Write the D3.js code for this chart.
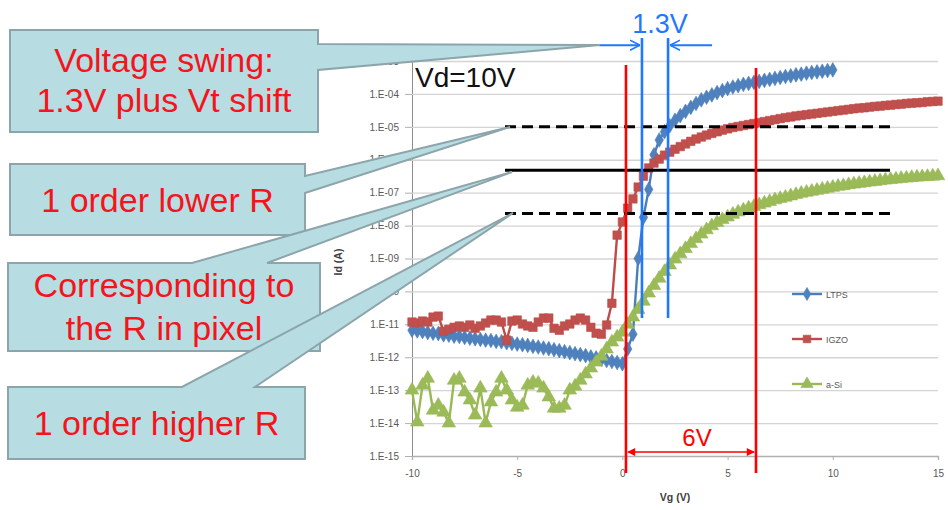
<!DOCTYPE html>
<html><head><meta charset="utf-8">
<script src="https://cdn.jsdelivr.net/npm/d3@7"></script>
<style>
body{margin:0;background:#fff;}
svg{display:block;font-family:"Liberation Sans",Arial,sans-serif;}
</style>
</head><body>
<svg id="c" width="948" height="510"></svg>
<script>
// ---------------- DATA ----------------
const seriesNames = ["LTPS", "IGZO", "a-Si"];
const vgStart = -10, vgStep = 0.25;           // gate-voltage sweep grid (V)
// log10(Id [A]), one value per sweep point
const ltpsLogId = [
 -11.18,-11.20,-11.22,-11.25,-11.27,-11.28,-11.32,-11.33,-11.36,-11.37,
 -11.40,-11.42,-11.44,-11.46,-11.48,-11.49,-11.52,-11.53,-11.56,-11.58,
 -11.60,-11.62,-11.64,-11.67,-11.69,-11.72,-11.74,-11.77,-11.80,-11.83,
 -11.86,-11.89,-11.92,-11.95,-11.99,-12.02,-12.06,-12.10,-12.13,-12.16,
 -12.20,
 -11.75,-11.30,-9.00,-7.75,-6.90,-5.85,-5.40,-5.15,-4.97,-4.80,
 -4.66,-4.53,-4.41,-4.29,-4.18,-4.10,-4.03,-3.96,-3.90,-3.84,
 -3.79,-3.75,-3.71,-3.68,-3.65,-3.62,-3.59,-3.56,-3.53,-3.50,
 -3.47,-3.45,-3.42,-3.40,-3.37,-3.35,-3.33,-3.31,-3.29,-3.27
];
const igzoLogId = [
 -10.93,-10.96,-10.90,-10.93,-10.78,-10.75,-11.21,-11.15,-11.09,-11.05,
 -11.09,-11.02,-11.12,-11.05,-10.96,-10.87,-10.87,-10.93,-11.48,-10.90,
 -10.87,-10.99,-11.05,-11.09,-10.93,-10.81,-10.81,-11.12,-11.18,-11.05,
 -10.99,-10.87,-10.81,-10.87,-11.09,-11.27,-11.30,-11.02,
 -10.36,-8.29,-7.89,-7.47,-7.19,-6.83,-6.50,-6.25,-6.10,-5.98,-5.86,
 -5.77,-5.68,-5.60,-5.52,-5.44,-5.37,-5.31,-5.25,-5.20,-5.15,
 -5.10,-5.06,-5.02,-4.99,-4.96,-4.93,-4.90,-4.87,-4.84,-4.81,
 -4.78,-4.75,-4.72,-4.70,-4.67,-4.65,-4.63,-4.61,-4.59,-4.57,
 -4.55,-4.53,-4.51,-4.49,-4.47,-4.45,-4.43,-4.42,-4.40,-4.38,
 -4.37,-4.35,-4.34,-4.32,-4.31,-4.29,-4.28,-4.27,-4.26,-4.24,
 -4.23,-4.22
];
const asiLogId = [
 -13.00,-13.97,-12.85,-12.64,-13.61,-13.46,-13.67,-14.00,-12.70,-12.64,
 -13.06,-13.30,-13.76,-12.94,-14.00,-13.36,-13.06,-12.64,-13.00,-13.30,
 -13.52,-13.46,-12.85,-12.76,-12.79,-12.94,-13.21,
 -13.55,-13.55,-13.46,-13.00,-12.88,-12.70,-12.51,-12.33,-12.15,-11.97,
 -11.75,-11.54,-11.39,-11.24,
 -11.00,-10.78,-10.55,-10.30,-10.05,-9.82,-9.60,-9.40,-9.20,-9.02,
 -8.86,-8.70,-8.55,-8.40,-8.26,-8.13,-8.01,-7.91,-7.82,-7.74,
 -7.66,-7.59,-7.53,-7.47,-7.42,-7.37,-7.32,-7.27,-7.22,-7.18,
 -7.14,-7.10,-7.06,-7.02,-6.99,-6.96,-6.93,-6.90,-6.87,-6.84,
 -6.81,-6.79,-6.76,-6.74,-6.72,-6.70,-6.68,-6.66,-6.64,-6.62,
 -6.60,-6.59,-6.57,-6.56,-6.54,-6.53,-6.52,-6.51,-6.50,-6.49
];
const xTickValues = [-10, -5, 0, 5, 10, 15];
const yTickExponents = [-15,-14,-13,-12,-11,-10,-9,-8,-7,-6,-5,-4,-3];
const xTitle = "Vg (V)", yTitle = "Id (A)";
const vdLabel = "Vd=10V";
// annotation values (data units)
const refLevelLogId = [-5.0, -6.32, -7.63];     // dashed, solid, dashed
const refLevelDash  = [true, false, true];
const refLevelVg = [-5.58, 12.72];
const redLineVg = [0.17, 6.35];
const blueLineVg = [0.93, 2.17];
const swingLabel = "1.3V", windowLabel = "6V";
const calloutTexts = [
  ["Voltage swing:", "1.3V plus Vt shift"],
  ["1 order lower R"],
  ["Corresponding to", "the R in pixel"],
  ["1 order higher R"]
];

// ---------------- STYLE / LAYOUT ----------------
const colors = {"LTPS":"#4A7EBB","IGZO":"#BE4B48","a-Si":"#98B954"};
const markerFill = {"LTPS":"#4F81BD","IGZO":"#C0504D","a-Si":"#9BBB59"};
const symbols = {"LTPS":d3.symbolDiamond,"IGZO":d3.symbolSquare,"a-Si":d3.symbolTriangle};
const symSize = {"LTPS":62,"IGZO":72,"a-Si":80};

const svg = d3.select("#c");
const x = d3.scaleLinear().domain([-10, 15]).range([412, 938]);
const y = d3.scaleLog().domain([1e-15, 1e-3]).range([456, 61]);
const L = v => Math.pow(10, v);

const seriesData = [
  {name:"LTPS", vals: ltpsLogId},
  {name:"IGZO", vals: igzoLogId},
  {name:"a-Si", vals: asiLogId}
].map(s => ({name:s.name, pts: s.vals.map((v,i)=>({vg: vgStart + i*vgStep, id: L(v)}))}));

// axes + gridlines
const gAxisY = svg.append("g").attr("transform","translate(412,0)");
const yAxis = d3.axisLeft(y)
  .tickValues(yTickExponents.map(L))
  .tickSize(7)
  .tickFormat(d => "1.E-" + String(-Math.round(Math.log10(d))).padStart(2,"0"));
gAxisY.call(yAxis);
gAxisY.select(".domain").attr("stroke","#8c8c8c");
gAxisY.selectAll(".tick line").attr("stroke","#b0b0b0");
gAxisY.selectAll(".tick text").attr("fill","#595959").attr("font-size",10)
  .attr("font-family","'Liberation Sans',Arial,sans-serif").attr("dx",-3);
gAxisY.selectAll(".tick").filter(d => d > 1e-15).append("line")
  .attr("x1",0).attr("x2",x(15)-412).attr("stroke","#d4d4d4").attr("stroke-width",1.3);

const gAxisX = svg.append("g").attr("transform","translate(0,456)");
gAxisX.call(d3.axisBottom(x).tickValues(xTickValues).tickSize(4).tickPadding(10)
  .tickFormat(d => String(d)));
gAxisX.select(".domain").attr("stroke","#b0b0b0").attr("stroke-width",1.3);
gAxisX.selectAll(".tick line").attr("stroke","#b0b0b0");
gAxisX.selectAll(".tick text").attr("fill","#595959").attr("font-size",10)
  .attr("font-family","'Liberation Sans',Arial,sans-serif");

svg.append("text").attr("x",(x(-10)+x(15))/2).attr("y",501).attr("text-anchor","middle")
  .attr("font-size",10.5).attr("font-weight","bold").attr("fill","#404040").text(xTitle);
svg.append("text").attr("transform","translate(342,262) rotate(-90)").attr("text-anchor","middle")
  .attr("font-size",10.5).attr("font-weight","bold").attr("fill","#404040").text(yTitle);

// series
const line = d3.line().x(d => x(d.vg)).y(d => y(d.id));
seriesData.forEach(s => {
  const g = svg.append("g");
  g.append("path").attr("d", line(s.pts)).attr("fill","none")
    .attr("stroke", colors[s.name]).attr("stroke-width",2.4).attr("stroke-linejoin","round");
  g.selectAll("path.m").data(s.pts).join("path").attr("class","m")
    .attr("transform", d => `translate(${x(d.vg)},${y(d.id)})`)
    .attr("d", d3.symbol().type(symbols[s.name]).size(symSize[s.name]))
    .attr("fill", markerFill[s.name]).attr("stroke", colors[s.name]).attr("stroke-width",0.6);
});

// legend
const legendY = [294, 339, 384];
seriesNames.forEach((n,i) => {
  const g = svg.append("g").attr("transform",`translate(792,${legendY[i]})`);
  g.append("line").attr("x1",0).attr("x2",30).attr("stroke",colors[n]).attr("stroke-width",2.4);
  g.append("path").attr("transform","translate(15,0)")
    .attr("d", d3.symbol().type(symbols[n]).size(symSize[n]*0.8))
    .attr("fill", markerFill[n]).attr("stroke", colors[n]).attr("stroke-width",0.6);
  g.append("text").attr("x",34).attr("y",3.5).attr("font-size",9).attr("fill","#595959").text(n);
});

// reference current levels
refLevelLogId.forEach((v,i) => {
  svg.append("line").attr("x1",x(refLevelVg[0])).attr("x2",x(refLevelVg[1]))
    .attr("y1",y(L(v))).attr("y2",y(L(v)))
    .attr("stroke","#000").attr("stroke-width",3)
    .attr("stroke-dasharray", refLevelDash[i] ? "11,6" : null);
});

// red window lines
const red = "#ff0000", blue = "#1f78ff";
svg.append("line").attr("x1",x(redLineVg[0])).attr("x2",x(redLineVg[0]))
  .attr("y1",y(L(-3.12))).attr("y2",y(1e-15)+17).attr("stroke",red).attr("stroke-width",2.6);
svg.append("line").attr("x1",x(redLineVg[1])).attr("x2",x(redLineVg[1]))
  .attr("y1",y(L(-3.21))).attr("y2",y(1e-15)+17).attr("stroke",red).attr("stroke-width",2.6);
const defs = svg.append("defs");
defs.append("marker").attr("id","arRed").attr("viewBox","0 0 10 10").attr("refX",9).attr("refY",5)
  .attr("markerWidth",9).attr("markerHeight",8).attr("orient","auto-start-reverse")
  .attr("markerUnits","userSpaceOnUse")
  .append("path").attr("d","M0,0 L10,5 L0,10 z").attr("fill",red);
const arrowY = y(L(-14.88));
svg.append("line").attr("x1",x(redLineVg[0])+2).attr("x2",x(redLineVg[1])-2)
  .attr("y1",arrowY).attr("y2",arrowY).attr("stroke",red).attr("stroke-width",1.6)
  .attr("marker-start","url(#arRed)").attr("marker-end","url(#arRed)");
svg.append("text").attr("x",(x(redLineVg[0])+x(redLineVg[1]))/2+6).attr("y",arrowY-6)
  .attr("text-anchor","middle").attr("font-size",24).attr("fill",red).text(windowLabel);

// blue swing lines
blueLineVg.forEach(v => {
  svg.append("line").attr("x1",x(v)).attr("x2",x(v))
    .attr("y1",y(L(-2.3))).attr("y2",y(L(-10.81))).attr("stroke",blue).attr("stroke-width",2.6);
});
defs.append("marker").attr("id","arBlue").attr("viewBox","0 0 10 10").attr("refX",10).attr("refY",5)
  .attr("markerWidth",10).attr("markerHeight",12).attr("orient","auto")
  .attr("markerUnits","userSpaceOnUse")
  .append("path").attr("d","M0,0 L10,5 L0,10").attr("fill","none").attr("stroke",blue).attr("stroke-width",1.6);
const by = y(L(-2.52));
svg.append("line").attr("x1",x(blueLineVg[0])-43).attr("x2",x(blueLineVg[0])-2)
  .attr("y1",by).attr("y2",by).attr("stroke",blue).attr("stroke-width",2).attr("marker-end","url(#arBlue)");
svg.append("line").attr("x1",x(blueLineVg[1])+44).attr("x2",x(blueLineVg[1])+2)
  .attr("y1",by).attr("y2",by).attr("stroke",blue).attr("stroke-width",2).attr("marker-end","url(#arBlue)");
svg.append("text").attr("x",(x(blueLineVg[0])+x(blueLineVg[1]))/2+5).attr("y",33)
  .attr("text-anchor","middle").attr("font-size",27).attr("fill",blue).text(swingLabel);

// Vd label
svg.append("text").attr("x",415).attr("y",87).attr("font-size",28).attr("fill","#111").text(vdLabel);

// callouts
const callouts = [
  {box:[10,30,318,132], path:"M10,30 H318 V44 L600,45 L318,70 V132 H10 Z", base:[72,112]},
  {box:[10,164,305,235], path:"M10,164 H305 V176 L510,127 L305,193 V235 H10 Z", base:[212]},
  {box:[8,263,320,351], path:"M8,263 H192 L512,172 L267,263 H320 V351 H8 Z", base:[297,340]},
  {box:[8,387,305,459], path:"M8,387 H182 L513,213 L255,387 H305 V459 H8 Z", base:[435]}
];
callouts.forEach((c,i) => {
  svg.append("path").attr("d",c.path).attr("fill","#B7DDE3").attr("stroke","#8CA5AA")
    .attr("stroke-width",2).attr("stroke-linejoin","miter");
  const cx = (c.box[0]+c.box[2])/2;
  calloutTexts[i].forEach((t,j) => {
    svg.append("text").attr("x",cx).attr("y",c.base[j]).attr("text-anchor","middle")
      .attr("font-size",34).attr("fill","#f5141c").text(t);
  });
});
</script>
</body></html>
